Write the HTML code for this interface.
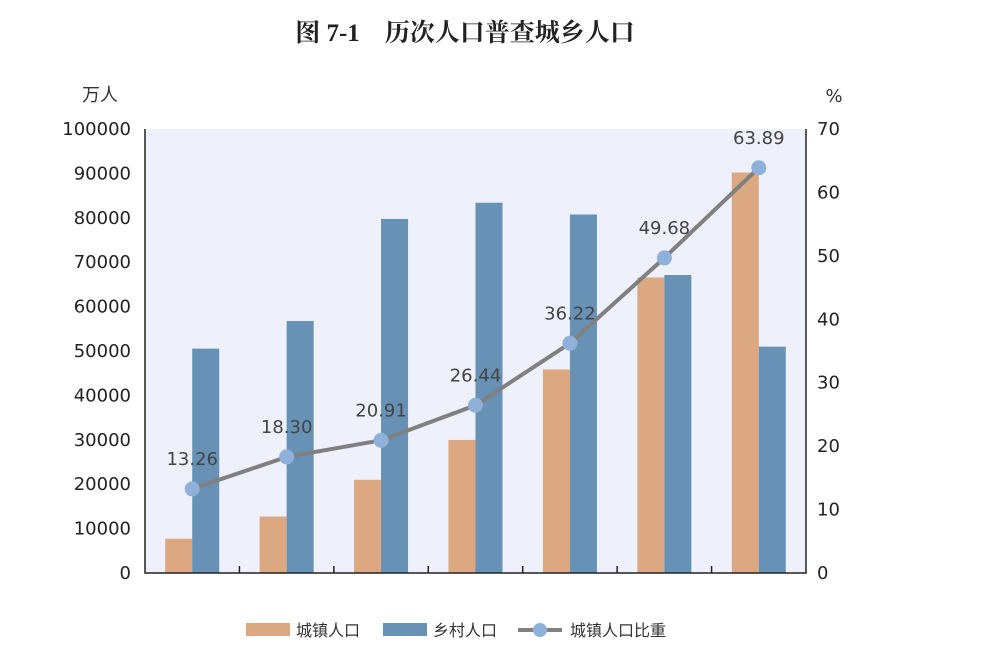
<!DOCTYPE html>
<html><head><meta charset="utf-8"><style>
body{margin:0;background:#fff;width:981px;height:652px;overflow:hidden}
svg{display:block}
text{font-family:"DejaVu Sans","Noto Sans CJK SC",sans-serif}
</style></head><body>
<svg id="c" width="981" height="652">
<text x="465" y="41" text-anchor="middle" font-size="25" font-weight="bold" fill="#222" style="font-family:'Liberation Serif','Noto Serif CJK SC',serif">图 7-1　历次人口普查城乡人口</text>
<text x="100" y="101" text-anchor="middle" font-size="18" fill="#333">万人</text>
<text x="834" y="102" text-anchor="middle" font-size="18" fill="#333">%</text>
<rect x="145" y="129" width="661" height="444" fill="#eef0fb"/>
<g id="g"></g>
</svg>
<script>
const categories=["1953","1964","1982","1990","2000","2010","2020"];
const urbanValues=[7726,12710,20991,29971,45844,66557,90199];
const ruralValues=[50534,56748,79736,83397,80739,67113,50979];
const urbanShare=[13.26,18.30,20.91,26.44,36.22,49.68,63.89];
const leftTicks=[0,10000,20000,30000,40000,50000,60000,70000,80000,90000,100000];
const rightTicks=[0,10,20,30,40,50,60,70];
const X0=145,X1=806,Y0=573,Y1=129;
const yL=v=>Y0-(v/100000)*(Y0-Y1);
const yR=v=>Y0-(v/70)*(Y0-Y1);
const bw=(X1-X0)/categories.length;
const xc=i=>X0+bw*(i+0.5);
const g=document.getElementById('g');
const NS='http://www.w3.org/2000/svg';
function mk(t,a,p){const e=document.createElementNS(NS,t);for(const k in a)e.setAttribute(k,a[k]);(p||g).appendChild(e);return e;}
categories.forEach((c,i)=>{
 const u=mk('rect',{x:xc(i)-27,y:yL(urbanValues[i]),width:27,height:Y0-yL(urbanValues[i]),fill:'#dba882'});
 
 
 const r=mk('rect',{x:xc(i),y:yL(ruralValues[i]),width:27,height:Y0-yL(ruralValues[i]),fill:'#6791b5'});
 
 
});
const ax=mk('path',{d:`M${X0},${Y1}V${Y0}H${X1}V${Y1}`,fill:'none',stroke:'#222','stroke-width':1.5});


for(let i=1;i<categories.length;i++){const t=mk('line',{x1:X0+bw*i,x2:X0+bw*i,y1:Y0,y2:Y0-7,stroke:'#222','stroke-width':1.5});
 
 }
leftTicks.forEach(v=>{const t=mk('text',{x:131,y:yL(v)+6,'text-anchor':'end','font-size':18,fill:'#222'});t.textContent=v;
 
 });
rightTicks.forEach(v=>{const t=mk('text',{x:817,y:yR(v)+6,'font-size':18,fill:'#222'});t.textContent=v;
 
 });
const ln=mk('polyline',{points:urbanShare.map((v,i)=>xc(i)+','+yR(v)).join(' '),fill:'none',stroke:'#808080','stroke-width':4});


urbanShare.forEach((v,i)=>{
 const p=mk('circle',{cx:xc(i),cy:yR(v),r:7.5,fill:'#8fb0d8'});
 
 
 const t=mk('text',{x:xc(i),y:yR(v)-24,'text-anchor':'middle','font-size':18,fill:'#444'});t.textContent=v.toFixed(2);
 
 
});
const lg=mk('g',{});


mk('rect',{x:246,y:623,width:44,height:13,fill:'#dba882'},lg);
let t1=mk('text',{x:296,y:636,'font-size':16,fill:'#333'},lg);t1.textContent='城镇人口';
mk('rect',{x:383,y:623,width:44,height:13,fill:'#6791b5'},lg);
let t2=mk('text',{x:433,y:636,'font-size':16,fill:'#333'},lg);t2.textContent='乡村人口';
mk('line',{x1:518,x2:562,y1:630,y2:630,stroke:'#808080','stroke-width':4},lg);
mk('circle',{cx:540,cy:630,r:7,fill:'#8fb0d8'},lg);
let t3=mk('text',{x:570,y:636,'font-size':16,fill:'#333'},lg);t3.textContent='城镇人口比重';
</script>
</body></html>
